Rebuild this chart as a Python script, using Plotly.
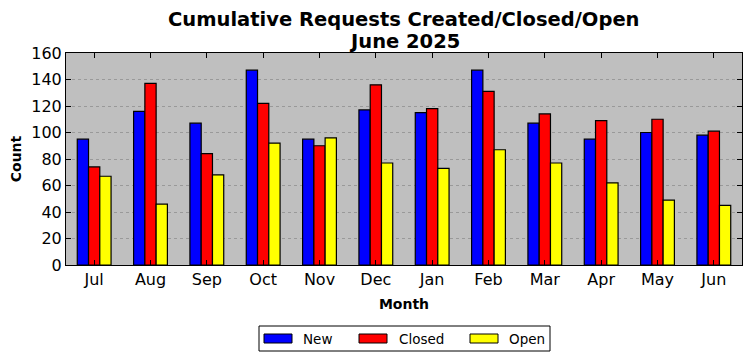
import plotly.graph_objects as go

months = ["Jul", "Aug", "Sep", "Oct", "Nov", "Dec", "Jan", "Feb", "Mar", "Apr", "May", "Jun"]
new_vals = [95, 116, 107, 147, 95, 117, 115, 147, 107, 95, 100, 98]
closed_vals = [74, 137, 84, 122, 90, 136, 118, 131, 114, 109, 110, 101]
open_vals = [67, 46, 68, 92, 96, 77, 73, 87, 77, 62, 49, 45]
y_ticks = [0, 20, 40, 60, 80, 100, 120, 140, 160]
title_lines = ["Cumulative Requests Created/Closed/Open", "June 2025"]

series = [("New", new_vals, "#0000ff"), ("Closed", closed_vals, "#ff0000"), ("Open", open_vals, "#ffff00")]

fig = go.Figure()
for name, vals, col in series:
    fig.add_trace(go.Bar(x=months, y=vals, name=name, showlegend=False,
                         marker=dict(color=col, line=dict(color="black", width=1.2))))

font = "DejaVu Sans"
# page body has an 8px margin, so the figure is drawn 8px in from the top-left
PX0, PX1, PY0, PY1 = 66, 742, 53, 265   # plot area in page pixels


def px(x):
    return (x - PX0) / (PX1 - PX0)


def py(y):
    return (PY1 - y) / (PY1 - PY0)


fig.update_layout(
    width=744, height=353,
    margin=dict(l=58, r=10, t=45, b=96, autoexpand=False),
    paper_bgcolor="white", plot_bgcolor="#bfbfbf",
    barmode="group", bargap=0.4, bargroupgap=0,
    font=dict(family=font, color="black"),
)
for line, cy in zip(title_lines, [19.5, 41.5]):
    fig.add_annotation(text="<b>" + line + "</b>", xref="paper", yref="paper",
                       x=0.5, y=py(cy), xanchor="center", yanchor="middle", showarrow=False,
                       font=dict(size=19.5, family=font))

# legend box drawn by hand (matplotlib-style wide swatches)
fig.add_shape(type="rect", xref="paper", yref="paper", x0=px(259), x1=px(550), y0=py(326), y1=py(351),
              line=dict(color="black", width=1), fillcolor="white", layer="above")
sw_x = [264, 359, 470]
tx_x = [301, 397, 507]
for (name, vals, col), sx, tx in zip(series, sw_x, tx_x):
    fig.add_shape(type="rect", xref="paper", yref="paper", x0=px(sx), x1=px(sx + 28), y0=py(334), y1=py(343),
                  line=dict(color="black", width=1), fillcolor=col, layer="above")
    fig.add_annotation(text=name, xref="paper", yref="paper", x=px(tx), y=py(338.5), xanchor="left",
                       yanchor="middle", showarrow=False, font=dict(size=13.5, family=font))

fig.update_xaxes(showline=True, linecolor="black", linewidth=1, mirror="ticks", ticks="inside", ticklen=5,
                 tickcolor="black", tickfont=dict(size=16, family=font), automargin=False,
                 title=dict(text="<b>Month</b>", font=dict(size=14, family=font), standoff=10))
fig.update_yaxes(range=[0, 160], tickvals=y_ticks, showline=True, linecolor="black", linewidth=1, mirror="ticks",
                 ticks="inside", ticklen=5, tickcolor="black", tickfont=dict(size=16, family=font),
                 showgrid=True, gridcolor="#999999", griddash="dot", gridwidth=1, zeroline=False, automargin=False,
                 title=dict(text="<b>Count</b>", font=dict(size=14, family=font), standoff=10))
fig.write_html("out.html")
